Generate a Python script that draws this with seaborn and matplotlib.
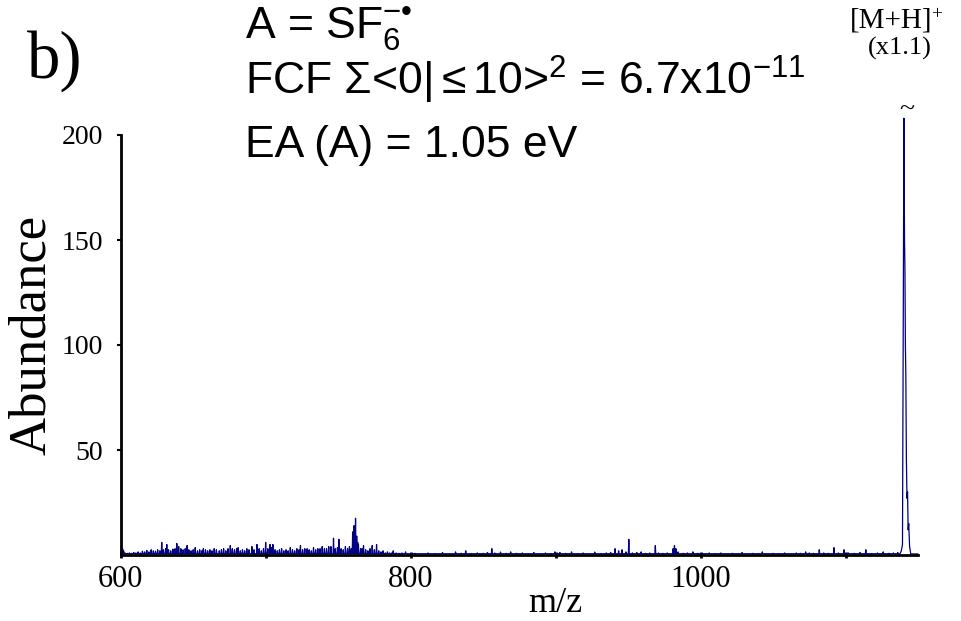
#!/usr/bin/env python
"""
Mass spectrum panel b): [M+H]+ region, SF6 radical anion as electron acceptor.
"""

# --- Imports
import pandas as pd
import seaborn as sns
import matplotlib
matplotlib.use('Agg')
import matplotlib.pyplot as plt

# --- Data

# dense chemical noise below m/z 800
noise_low_mz = [600.5, 601.3, 602, 603, 604.5, 606, 607.5, 609, 610.5, 612, 613.5, 615,
                616.5, 618, 619.5, 621, 622.5, 624, 625.5, 627, 628.3, 629.5, 631, 631.8,
                633, 634.5, 636, 637.5, 638.7, 640, 641.5, 643, 644.5, 645.8, 647, 648.5,
                650, 651.4, 653, 654.5, 656, 657, 658.5, 660, 661.5, 663, 664.5, 666, 668,
                669.5, 671, 672.5, 674, 675.6, 677, 678.5, 680, 681, 682.5, 684, 685.5, 687,
                688.5, 690.5, 692, 694, 695.5, 697, 698.5, 700, 701.5, 703, 704, 705, 706.5,
                708, 709.5, 711, 712.5, 714, 715.5, 717, 718.5, 720, 721.5, 723, 724, 725.5,
                727, 728.6, 730, 731.5, 733, 734.5, 736, 737.5, 739, 740.5, 742, 743.5, 745,
                746.8, 748, 749.5, 750.5, 752, 753.5, 755, 756.5, 757.8, 759, 760, 761, 762,
                762.8, 763.5, 764, 765.5, 766.5, 767.5, 769, 770.5, 772, 773.5, 775, 776.5,
                778, 779.5, 781, 782.5, 784, 785.5, 787, 788, 790, 792, 794, 796.5, 798]
noise_low_ab = [4.5, 3, 2, 1, 0.8, 1, 0.8, 1.2, 1, 1.5, 1, 1.8,
                1.5, 2.2, 1.5, 2.5, 2, 1.8, 2.5, 2, 6, 2.5, 3, 5,
                2.5, 2, 2.8, 3, 5.5, 4, 3, 2.5, 3, 4.5, 2.5, 2,
                2.5, 3.5, 2, 2.5, 2, 3, 2.5, 2, 2.5, 2, 3, 2.5, 2,
                2.5, 3, 2, 3, 4.5, 3, 2.5, 3, 3.5, 2, 2.5, 2, 3,
                2.5, 4, 2.5, 5, 3, 2, 3, 6, 3, 5, 3.5, 5, 2.5,
                2, 2.5, 3, 2, 2.5, 2, 3.5, 2.5, 2, 3, 2.5, 4.5, 2.5,
                3, 3, 2.5, 2, 3.5, 2.5, 3, 3, 4, 3, 3, 4, 4,
                8, 3, 3.5, 7.5, 3, 2.5, 4, 3, 4, 3, 11, 14, 17.5,
                9, 6, 5, 3, 3, 4.5, 2.5, 2, 3, 4.5, 2.5, 5,
                2, 1.5, 2, 1, 1.5, 1, 1, 2, 1, 0.8, 1, 1.5, 0.5]

# sparse noise between m/z 800 and the molecular ion
noise_high_mz = [803, 808, 812, 817, 822, 827, 831, 835, 838, 842, 846, 850, 853, 856, 858,
                 862, 866, 869, 873, 877, 881, 885, 889, 893, 897, 899.5, 903, 907, 911, 915,
                 919, 923, 927, 931, 935, 938, 941, 943.5, 945.8, 948.5, 950.5, 953, 956, 959,
                 962, 965, 968.8, 971, 974, 977, 981, 982, 983, 984.5, 988, 991, 994.7, 998,
                 1002, 1006, 1010, 1014, 1018, 1022, 1026, 1028.6, 1032, 1036, 1040, 1042.6,
                 1046, 1050, 1054, 1058, 1062, 1066, 1069, 1072.5, 1075, 1078, 1081.9, 1085,
                 1088, 1092, 1095, 1099, 1102, 1106, 1110, 1114, 1118, 1122, 1126, 1130, 1133,
                 1136]
noise_high_ab = [0.8, 0.6, 1, 0.7, 1.2, 0.6, 1.5, 0.8, 2, 0.7, 1, 0.8, 1.2, 3, 1,
                 1.4, 0.8, 1.5, 0.8, 1, 0.7, 1.2, 0.6, 1, 0.7, 1.5, 1.2, 0.8, 1.5, 0.7,
                 1, 0.6, 1.4, 0.7, 1, 1.2, 3, 2, 2.5, 1.5, 7.5, 1, 1.2, 1.5,
                 0.8, 1, 4.5, 1, 0.8, 1, 3, 4.5, 3, 1.5, 0.8, 1, 1.5, 0.8,
                 0.6, 1, 0.7, 1, 0.6, 0.8, 0.7, 1.2, 0.6, 0.8, 0.7, 1.5,
                 0.6, 0.8, 0.7, 1, 0.6, 1, 0.8, 1.5, 1, 0.8, 2.5, 1,
                 0.8, 3.5, 1, 2.5, 1, 0.8, 1.2, 2.5, 0.7, 1, 1.5, 0.8, 1,
                 1.2]

# [M+H]+ profile, top runs past the 200 mark (broken, x1.1)
ion_mz = [1137.5, 1138.5, 1139.3, 1139.9, 1140.3, 1140.7, 1141.0, 1141.3, 1141.6,
          1142.0, 1142.4, 1142.8, 1143.2, 1143.6, 1144.2, 1145.0, 1150.0]
ion_ab = [0.5, 2, 5, 120, 208, 150, 136, 100, 86,
          45, 27, 30, 12, 15, 4, 0.5, 0.5]

x_ticks = [600, 800, 1000]
x_minor = [700, 900, 1100]
y_ticks = [50, 100, 150, 200]

BASE = 0.6
LINE = '#000080'


def spectrum_frame():
    """Join stick peaks and the ion profile into one trace."""
    mz, ab = [600.0], [BASE]
    for m, h in zip(noise_low_mz + noise_high_mz, noise_low_ab + noise_high_ab):
        mz += [m - 0.3, m, m + 0.3]
        ab += [BASE, h, BASE]
    mz += ion_mz
    ab += ion_ab
    return pd.DataFrame({'mz': mz, 'abundance': ab})


def main():
    sns.set_theme(style='white')
    plt.rcParams['font.family'] = ['Liberation Serif', 'DejaVu Serif']
    plt.rcParams['mathtext.fontset'] = 'custom'
    plt.rcParams['mathtext.rm'] = 'Liberation Sans'
    plt.rcParams['mathtext.it'] = 'Liberation Sans:italic'
    plt.rcParams['text.color'] = 'black'
    plt.rcParams['xtick.color'] = 'black'
    plt.rcParams['ytick.color'] = 'black'

    W, H = 961, 621
    fig = plt.figure(figsize=(W / 100, H / 100), dpi=100)
    ax = fig.add_axes([120.7 / W, 1 - 555 / H, (918 - 120.7) / W, (555 - 135) / H])

    df = spectrum_frame()
    sns.lineplot(data=df, x='mz', y='abundance', sort=False, estimator=None,
                 color=LINE, lw=0.9, ax=ax)
    ax.lines[0].set_clip_on(False)

    ax.set_xlim(600, 1150)
    ax.set_ylim(0, 200)
    ax.set_xticks(x_ticks)
    ax.set_xticks(x_minor, minor=True)
    ax.set_yticks(y_ticks)
    ax.set_xlabel('')
    ax.set_ylabel('')
    ax.tick_params(axis='x', which='both', direction='inout', length=5, width=2,
                   labelsize=22, pad=5, bottom=True)
    ax.tick_params(axis='y', direction='out', length=3, width=1.5, labelsize=20,
                   pad=10, left=True)
    for s in ['top', 'right']:
        ax.spines[s].set_visible(False)
    for s in ['left', 'bottom']:
        ax.spines[s].set_linewidth(2)
        ax.spines[s].set_color('black')

    # labels, in pixel positions of the figure
    def put(x, y, s, **kw):
        fig.text(x / W, 1 - y / H, s, **kw)

    put(32, 335, 'Abundance', fontsize=38, rotation=90, ha='center', va='center')
    put(555, 603, 'm/z', fontsize=26, ha='center', va='center')
    put(27, 78, 'b)', fontsize=48, ha='left', va='baseline')

    sans = dict(family='Liberation Sans', fontsize=32, ha='left', va='baseline')
    put(245, 40, 'A = SF$_6^{-\u2022}$', **sans)
    put(245, 95, r'FCF $\Sigma$<0|$\leq$10>$^2$ = 6.7x10$^{-11}$', **sans)
    put(245, 157, 'EA (A) = 1.05 eV', **sans)

    put(850, 28, '[M+H]', fontsize=21, ha='left', va='baseline')
    put(931, 19, '+', fontsize=14, ha='left', va='baseline')
    put(900, 55, '(x1.1)', fontsize=19, ha='center', va='baseline')
    put(907, 110, '~', fontsize=20, ha='center', va='center')

    fig.savefig('out.png', dpi=100)


if __name__ == '__main__':
    main()
